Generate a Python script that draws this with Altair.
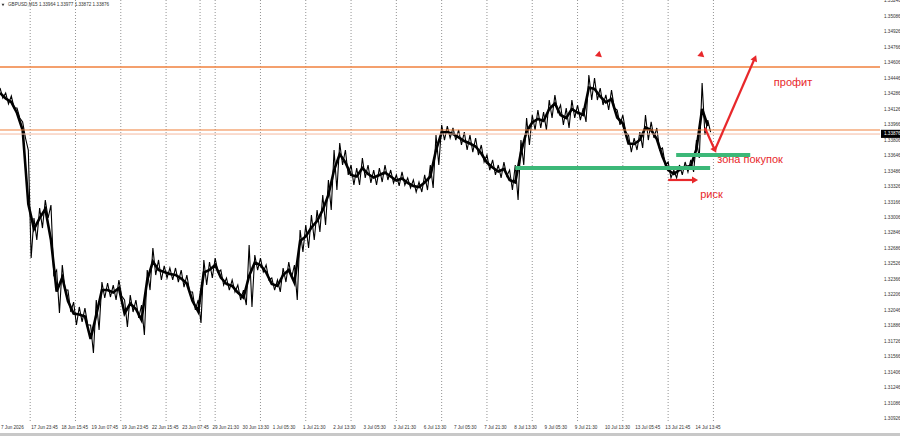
import altair as alt
import pandas as pd

# ---- price trace (GBPUSD M15), sampled every 12 bars: band high / low ----
hi = [1.34350, 1.34298, 1.34267, 1.34143, 1.33999, 1.33709, 1.33006, 1.33109, 1.33192, 1.33140,
      1.32468, 1.32520, 1.32261, 1.32137, 1.32086, 1.32075, 1.31900, 1.32158, 1.32344, 1.32334,
      1.32313, 1.32365, 1.32158, 1.32210, 1.32158, 1.32106, 1.32468, 1.32696, 1.32572, 1.32510,
      1.32489, 1.32489, 1.32468, 1.32416, 1.32241, 1.32158, 1.32572, 1.32551, 1.32592, 1.32468,
      1.32386, 1.32365, 1.32313, 1.32261, 1.32727, 1.32623, 1.32592, 1.32520, 1.32386, 1.32365,
      1.32489, 1.32551, 1.32520, 1.32882, 1.32934, 1.33037, 1.33089, 1.33244, 1.33399, 1.33709,
      1.33781, 1.33709, 1.33554, 1.33523, 1.33626, 1.33554, 1.33502, 1.33523, 1.33554, 1.33502,
      1.33451, 1.33482, 1.33420, 1.33399, 1.33378, 1.33451, 1.33554, 1.33864, 1.33968, 1.33957,
      1.33937, 1.33916, 1.33895, 1.33864, 1.33833, 1.33761, 1.33657, 1.33606, 1.33554, 1.33585,
      1.33502, 1.33554, 1.33812, 1.34040, 1.34071, 1.34123, 1.34102, 1.34226, 1.34278, 1.34174,
      1.34143, 1.34226, 1.34174, 1.34143, 1.34484, 1.34454, 1.34350, 1.34278, 1.34329, 1.34123,
      1.34071, 1.33864, 1.33833, 1.33895, 1.34071, 1.33999, 1.33937, 1.33730, 1.33585, 1.33502,
      1.33554, 1.33585, 1.33606, 1.33812, 1.34402, 1.34019]
lo = [1.34247, 1.34185, 1.34143, 1.34040, 1.33833, 1.32592, 1.32778, 1.32902, 1.33006, 1.32416,
      1.32024, 1.32261, 1.32034, 1.31900, 1.31931, 1.31900, 1.31610, 1.31848, 1.32179, 1.32189,
      1.32158, 1.32199, 1.31879, 1.32034, 1.31972, 1.31796, 1.32261, 1.32416, 1.32365, 1.32386,
      1.32365, 1.32344, 1.32292, 1.32241, 1.32055, 1.31920, 1.32313, 1.32386, 1.32448, 1.32313,
      1.32261, 1.32241, 1.32158, 1.32106, 1.32086, 1.32468, 1.32448, 1.32365, 1.32261, 1.32241,
      1.32344, 1.32386, 1.32158, 1.32654, 1.32696, 1.32778, 1.32861, 1.32934, 1.33089, 1.33295,
      1.33554, 1.33451, 1.33347, 1.33347, 1.33420, 1.33368, 1.33347, 1.33378, 1.33399, 1.33368,
      1.33337, 1.33347, 1.33316, 1.33275, 1.33275, 1.33295, 1.33316, 1.33554, 1.33812, 1.33833,
      1.33812, 1.33761, 1.33709, 1.33688, 1.33657, 1.33585, 1.33502, 1.33451, 1.33420, 1.33440,
      1.33295, 1.33192, 1.33554, 1.33761, 1.33916, 1.33937, 1.33916, 1.34040, 1.34102, 1.33968,
      1.33937, 1.34040, 1.34019, 1.33999, 1.34226, 1.34226, 1.34174, 1.34123, 1.34143, 1.33968,
      1.33895, 1.33688, 1.33709, 1.33730, 1.33812, 1.33833, 1.33709, 1.33554, 1.33420, 1.33420,
      1.33451, 1.33482, 1.33482, 1.33626, 1.33864, 1.33895]
BARS_PER_SAMPLE = 12

# ---- axes ----
time_labels = ["7 Jun 2026", "17 Jun 23:45", "18 Jun 15:45", "19 Jun 07:45", "19 Jun 23:45",
               "22 Jun 15:45", "23 Jun 07:45", "29 Jun 21:30", "30 Jun 13:30", "1 Jul 05:30",
               "1 Jul 21:30", "2 Jul 13:30", "3 Jul 05:30", "3 Jul 21:30", "6 Jul 13:30",
               "7 Jul 05:30", "7 Jul 21:30", "8 Jul 13:30", "9 Jul 05:30", "9 Jul 21:30",
               "10 Jul 13:30", "13 Jul 05:45", "13 Jul 21:45", "14 Jul 13:45"]
time_tick_bars = [0, 64, 128, 192, 256, 320, 384, 448, 512, 576, 640, 704, 768, 832, 896,
                  960, 1024, 1088, 1152, 1216, 1280, 1344, 1408, 1472]
grid_bars = [64, 160, 256, 352, 424, 456, 552, 648, 744, 840, 936, 1032, 1128, 1224, 1320, 1416, 1512]
price_ticks = [1.30926, 1.31086, 1.31246, 1.31406, 1.31566, 1.31726, 1.31886, 1.32046, 1.32206,
               1.32366, 1.32526, 1.32686, 1.32846, 1.33006, 1.33166, 1.33326, 1.33486, 1.33646,
               1.33806, 1.33966, 1.34126, 1.34286, 1.34446, 1.34606, 1.34766, 1.34926, 1.35086,
               1.35246]
price_domain = [1.30907, 1.35260]
bar_domain = [0, 1865]

# ---- annotation levels ----
resistance = 1.34567
support_line = 1.33916
bid_line = 1.33874
current_price = 1.33876
current_box = [1.33834, 1.33918]
green_long = {"x": 1092, "x2": 1505, "y": 1.33523}
green_short = {"x": 1433, "x2": 1590, "y": 1.33657}
arrow_segments = [
    ("risk", 1416, 1.33399), ("risk", 1470, 1.33399),
    ("down", 1494, 1.33937), ("down", 1513, 1.33730),
    ("up", 1515, 1.33709), ("up", 1598, 1.34640),
]
arrow_heads = [(1473, 1.33399, 90), (1515, 1.33709, 153), (1600, 1.34660, 23),
               (1267, 1.34691, 250), (1484, 1.34691, 250)]
notes = [("профит", 1640, 1.34402), ("зона покупок", 1520, 1.33606), ("риск", 1484, 1.33244)]
header = "GBPUSD,M15  1.33964 1.33977 1.33872 1.33876"

RED = "#e8282b"
GREEN = "#3cb878"
ORANGE = "#f0803c"
FONT = "Liberation Sans"
AXFONT = "Liberation Sans"
AXSIZE = 4.6

# zig-zag between successive highs and lows, like densely packed bars
zz_bar, zz_p = [], []
for i in range(len(hi)):
    zz_bar += [i * BARS_PER_SAMPLE, i * BARS_PER_SAMPLE + BARS_PER_SAMPLE // 2]
    zz_p += [hi[i], lo[i]]
price = pd.DataFrame({"bar": zz_bar, "p": zz_p})
band_df = pd.DataFrame({"bar": [i * BARS_PER_SAMPLE for i in range(len(hi))], "hi": hi, "lo": lo})

xs = alt.Scale(domain=bar_domain, nice=False, zero=False)
ys = alt.Scale(domain=price_domain, nice=False, zero=False)

x_axis = alt.Axis(values=time_tick_bars, labels=False, tickSize=3, grid=False,
                  domainColor="#000", tickColor="#000", title=None)
y_axis = alt.Axis(orient="right", values=price_ticks, labels=False, tickSize=3, grid=False,
                  domainColor="#000", tickColor="#000", title=None)

grid = alt.Chart(pd.DataFrame({"bar": grid_bars})).mark_rule(
    color="#777", strokeDash=[1, 2], strokeWidth=0.8).encode(x=alt.X("bar:Q", scale=xs, axis=x_axis))

core = alt.Chart(band_df).transform_calculate(mid="(datum.hi + datum.lo) / 2").mark_line(
    color="#000", strokeWidth=2.6, interpolate="linear").encode(
    x=alt.X("bar:Q", scale=xs, axis=None),
    y=alt.Y("mid:Q", scale=ys, axis=y_axis))
line = alt.Chart(price).mark_line(color="#000", strokeWidth=1.1, interpolate="linear").encode(
    x=alt.X("bar:Q", scale=xs, axis=None), y=alt.Y("p:Q", scale=ys, axis=None))

# axis labels as text
tl = pd.DataFrame({"bar": time_tick_bars, "t": time_labels})
xlab = alt.Chart(tl).mark_text(fontSize=AXSIZE, font=AXFONT, color="#333", align="left", baseline="middle",
                               dx=1).encode(
    x=alt.X("bar:Q", scale=xs, axis=None), y=alt.value(428), text="t:N")
pl = pd.DataFrame({"p": price_ticks, "t": [f"{v:.5f}" for v in price_ticks]})
ylab = alt.Chart(pl).mark_text(fontSize=AXSIZE, font=AXFONT, color="#333", align="left", baseline="middle").encode(
    x=alt.value(884), y=alt.Y("p:Q", scale=ys, axis=None), text="t:N")

lv = pd.DataFrame({"p": [resistance, support_line, bid_line],
                   "c": [ORANGE, ORANGE, "#f4b9a0"], "w": [1.6, 1.0, 1.0]})
levels = alt.Chart(lv).mark_rule().encode(
    y=alt.Y("p:Q", scale=ys, axis=None), color=alt.Color("c:N", scale=None),
    strokeWidth=alt.StrokeWidth("w:Q", scale=None))

gz = pd.DataFrame([green_long, green_short])
greens = alt.Chart(gz).mark_rule(color=GREEN, strokeWidth=4).encode(
    x=alt.X("x:Q", scale=xs, axis=None), x2="x2:Q", y=alt.Y("y:Q", scale=ys, axis=None))

ar = pd.DataFrame(arrow_segments, columns=["seg", "bar", "p"])
arrows = alt.Chart(ar).mark_line(color=RED, strokeWidth=2.2).encode(
    x=alt.X("bar:Q", scale=xs, axis=None), y=alt.Y("p:Q", scale=ys, axis=None), detail="seg:N")
ah = pd.DataFrame(arrow_heads, columns=["bar", "p", "ang"])
heads = alt.Chart(ah).mark_point(shape="triangle-up", filled=True, color=RED, size=50, opacity=1).encode(
    x=alt.X("bar:Q", scale=xs, axis=None), y=alt.Y("p:Q", scale=ys, axis=None),
    angle=alt.Angle("ang:Q", scale=None))

nt = pd.DataFrame(notes, columns=["t", "bar", "p"])
texts = alt.Chart(nt).mark_text(color=RED, fontSize=11, font=FONT, align="left", baseline="middle").encode(
    x=alt.X("bar:Q", scale=xs, axis=None), y=alt.Y("p:Q", scale=ys, axis=None), text="t:N")

box_df = pd.DataFrame({"lo": [current_box[0]], "hi": [current_box[1]], "t": [f"{current_price:.5f}"],
                       "p": [current_price]})
box = alt.Chart(box_df).mark_rect(color="#000").encode(
    x=alt.value(881), x2=alt.value(900), y=alt.Y("lo:Q", scale=ys, axis=None), y2="hi:Q")
box_txt = alt.Chart(box_df).mark_text(color="#fff", fontSize=AXSIZE, font=AXFONT, align="left",
                                      baseline="middle").encode(
    x=alt.value(884), y=alt.Y("p:Q", scale=ys, axis=None), text="t:N")

hdr = alt.Chart(pd.DataFrame({"t": [header]})).mark_text(
    fontSize=AXSIZE, font=AXFONT, color="#333", align="left", baseline="middle").encode(
    x=alt.value(8), y=alt.value(5), text="t:N")
hdr_tri = alt.Chart(pd.DataFrame({"t": [header]})).mark_point(
    shape="triangle-down", filled=True, color="#333", size=8, opacity=1).encode(
    x=alt.value(3), y=alt.value(5))

scroll = alt.Chart(pd.DataFrame({"a": [0]})).mark_rect(color="#c8c8c8").encode(
    x=alt.value(0), x2=alt.value(900), y=alt.value(433), y2=alt.value(436))

chart = alt.layer(grid, core, line, levels, greens, arrows, heads, texts, xlab, ylab, box, box_txt,
                  hdr, hdr_tri, scroll).properties(
    width=880, height=421, autosize=alt.AutoSizeParams(type="none"),
    padding={"left": 0, "top": 0, "right": 20, "bottom": 15},
    background="#ffffff"
).configure_view(stroke=None)

chart.save("out.html", embed_options={"renderer": "svg", "actions": False})
